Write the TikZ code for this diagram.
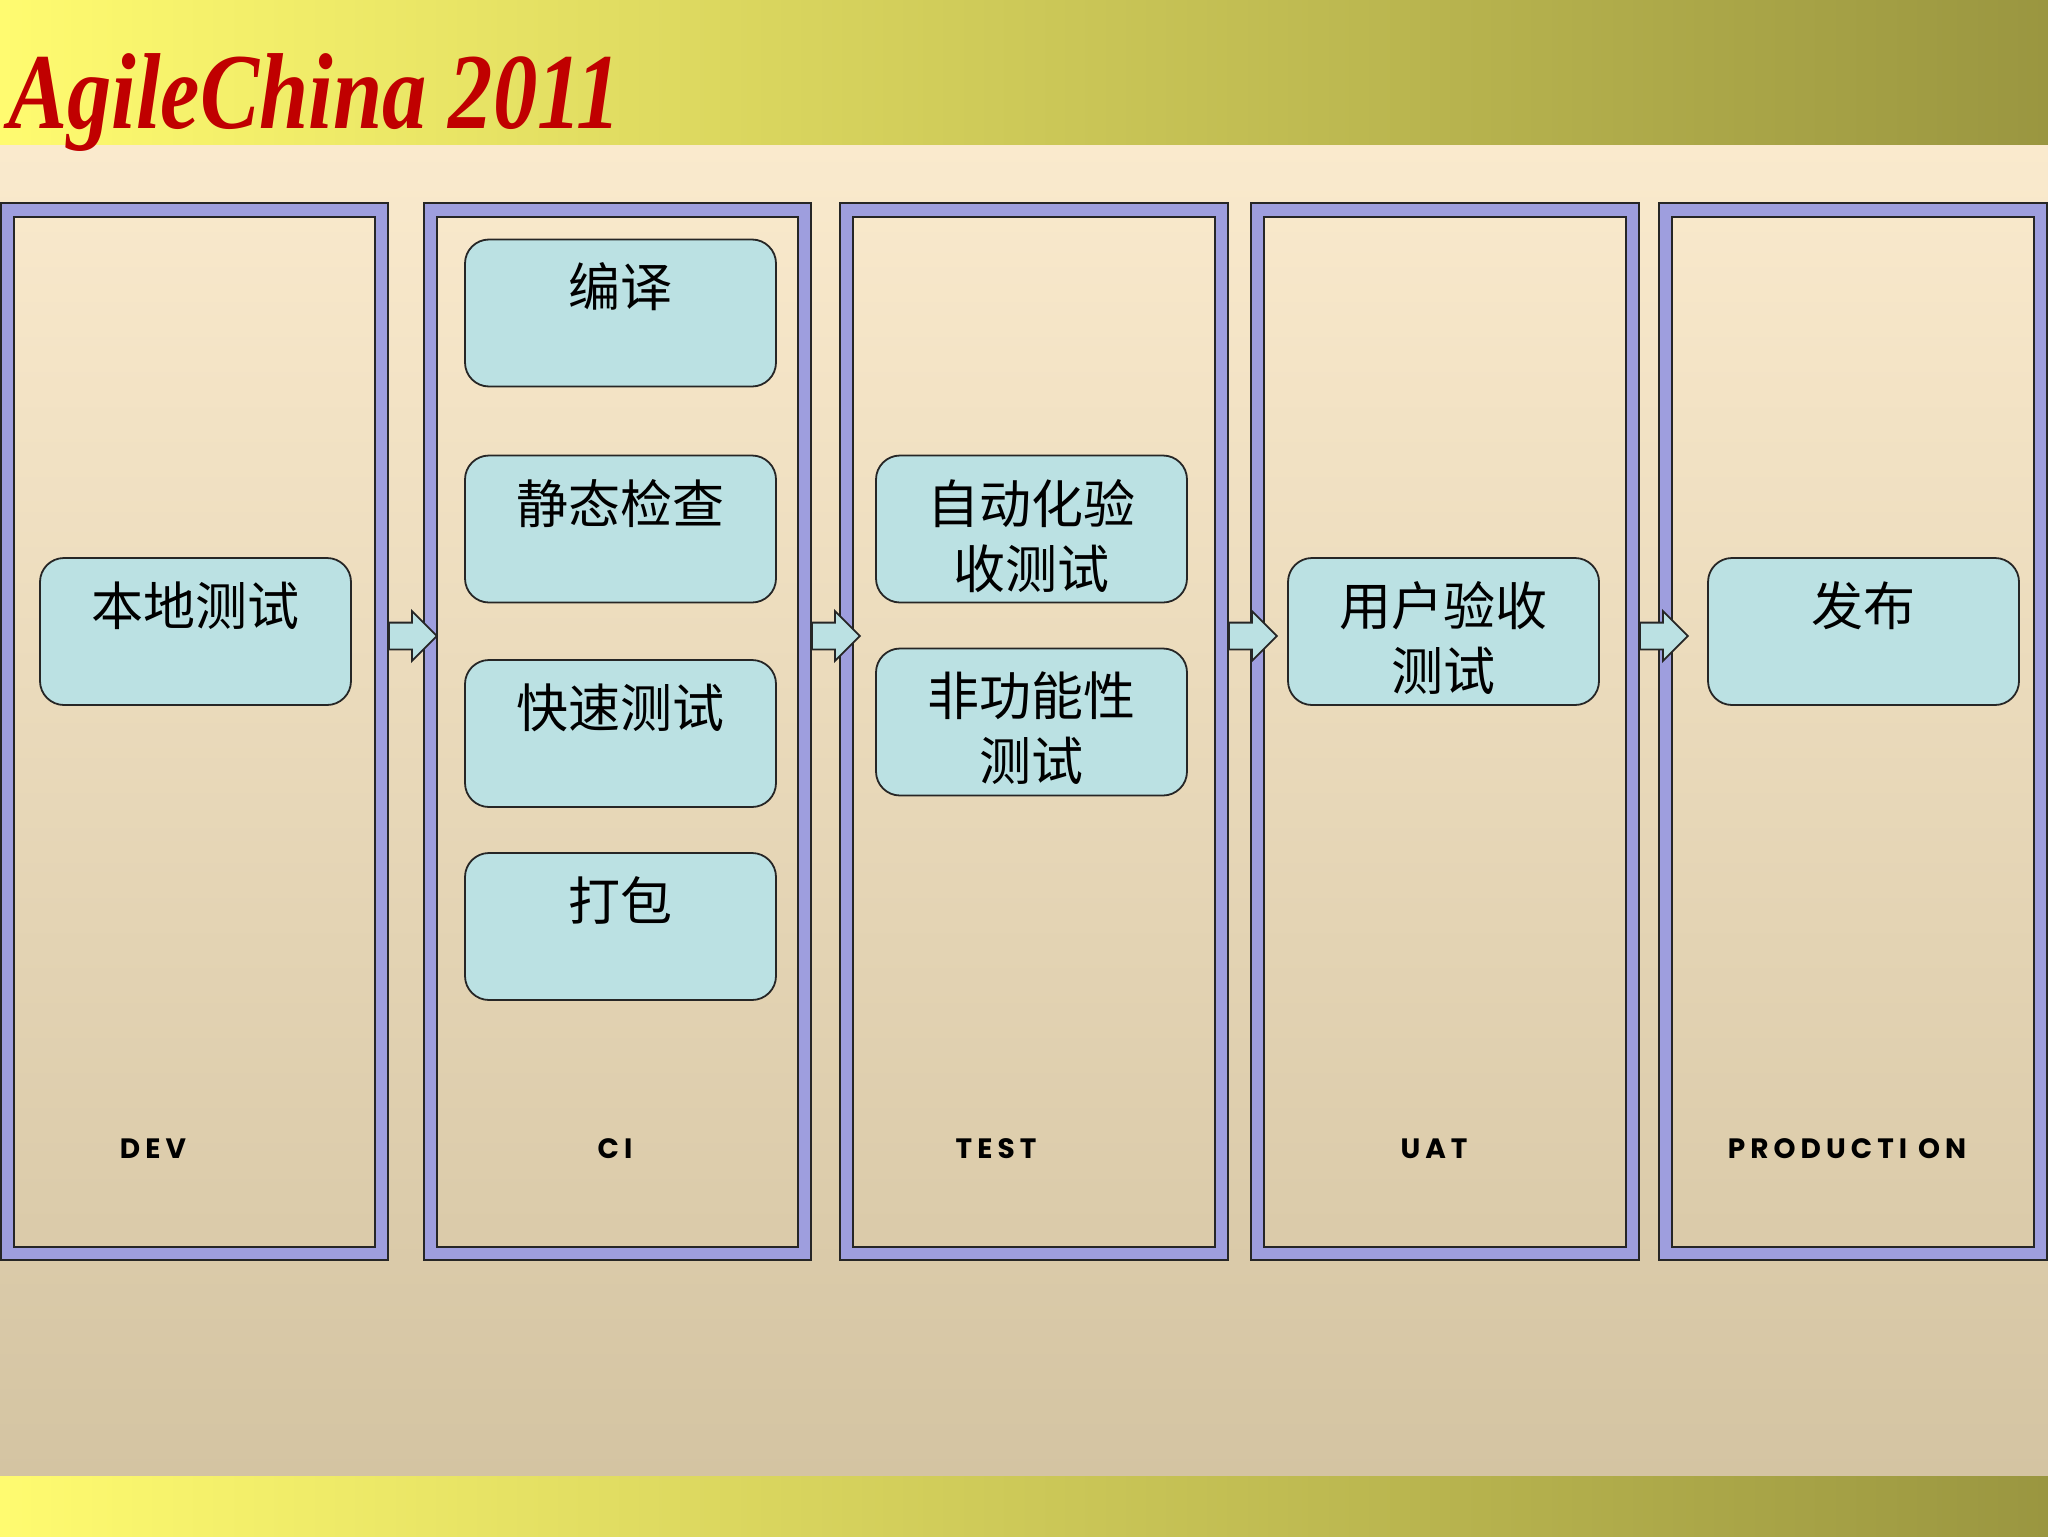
\documentclass[tikz,border=0pt]{standalone}
\usepackage{fontspec}
\usetikzlibrary{shapes.arrows}
\newfontfamily\cjk{Noto Sans CJK SC}
\newfontfamily\labfont{Poppins}[LetterSpace=18]
\newfontfamily\titlefont{Liberation Serif}
\definecolor{hdrL}{HTML}{FFFB70}
\definecolor{hdrR}{HTML}{9A9640}
\definecolor{bgTop}{HTML}{FAEACD}
\definecolor{bgBot}{HTML}{D4C4A2}
\definecolor{lav}{HTML}{9E9EDE}
\definecolor{boxfill}{HTML}{BBE1E3}
\definecolor{titlered}{HTML}{C00000}
\newcommand\stageframe[3]{%
  \path[fill=lav, even odd rule] (#1,203) rectangle (#2,1260) ({#1+13},217) rectangle ({#2-13},1247);
  \draw[frameline] (#1,203) rectangle (#2,1260);
  \draw[frameline] ({#1+13},217) rectangle ({#2-13},1247);
  \coordinate (#3L) at ({#1+13},636);
  \coordinate (#3R) at (#2,636);
}
\begin{document}
\begin{tikzpicture}[x=0.5pt,y=-0.5pt,
  frameline/.style={draw=black!85, line width=0.9pt},
  stagebox/.style={draw=black!85, line width=0.9pt, fill=boxfill, rounded corners=12pt,
    minimum width=155.5pt, minimum height=73.5pt, inner sep=0pt},
  boxtext/.style={font=\cjk\fontsize{26}{32.5}\selectfont, align=center, inner sep=0pt,
    anchor=north, yshift=-12pt},
  flow/.style={single arrow, draw=black!85, line width=0.9pt, fill=boxfill,
    text height=6.25pt, text depth=6.25pt, text width=0pt,
    minimum height=24pt, single arrow head extend=5.75pt,
    single arrow head indent=0pt, inner sep=0pt, anchor=tail},
  stagelabel/.style={font=\labfont\bfseries\fontsize{14}{14}\selectfont, inner sep=0pt}
]
\useasboundingbox (0,0) rectangle (2048,1536);
% background
\shade[top color=bgTop, bottom color=bgBot] (0,144) rectangle (2048,1476);
\shade[left color=hdrL, right color=hdrR] (0,0) rectangle (2048,144);
\shade[left color=hdrL, right color=hdrR] (0,1476) rectangle (2048,1536);
% title
\node[anchor=base west, inner sep=0pt, text=titlered] (title) at (8,128)
  {\scalebox{0.82}[1]{\titlefont\bfseries\itshape\fontsize{54}{54}\selectfont AgileChina 2011}};
% frames
\stageframe{1}{388}{dev}
\stageframe{424}{811}{ci}
\stageframe{840}{1228}{test}
\stageframe{1251}{1639}{uat}
\stageframe{1659}{2047}{prod}
% boxes
\node[stagebox, label={[boxtext, name=t1]north:本地测试}] (b1) at (195.5,631.5) {};
\node[stagebox, label={[boxtext, name=t2]north:编译}] (b2) at (620.5,313) {};
\node[stagebox, label={[boxtext, name=t3]north:静态检查}] (b3) at (620.5,529) {};
\node[stagebox, label={[boxtext, name=t4]north:快速测试}] (b4) at (620.5,733.5) {};
\node[stagebox, label={[boxtext, name=t5]north:打包}] (b5) at (620.5,926.5) {};
\node[stagebox, label={[boxtext, name=t6]north:自动化验\\收测试}] (b6) at (1031.5,529) {};
\node[stagebox, label={[boxtext, name=t7]north:非功能性\\测试}] (b7) at (1031.5,722) {};
\node[stagebox, label={[boxtext, name=t8]north:用户验收\\测试}] (b8) at (1443.5,631.5) {};
\node[stagebox, label={[boxtext, name=t9]north:发布}] (b9) at (1863.5,631.5) {};
% stage labels
\node[stagelabel] (l1) at (153,1149) {DEV};
\node[stagelabel] (l2) at (615,1149) {CI};
\node[stagelabel] (l3) at (996,1149) {TEST};
\node[stagelabel] (l4) at (1434,1149) {UAT};
\node[stagelabel] (l5) at (1847,1149) {PRODUCTI ON};
% flow arrows
\node[flow] (a1) at (devR) {};
\node[flow] (a2) at (ciR) {};
\node[flow] (a3) at (testR) {};
\node[flow] (a4) at (uatR) {};
\end{tikzpicture}
\end{document}
